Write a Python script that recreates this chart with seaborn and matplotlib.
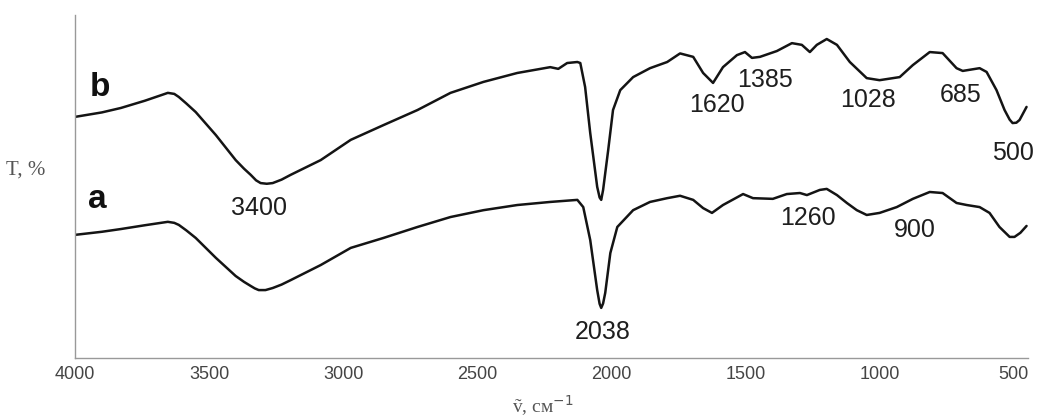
import numpy as np
import pandas as pd
import matplotlib
matplotlib.use("Agg")
import matplotlib.pyplot as plt
import seaborn as sns

# IR transmission spectra, wavenumber in cm^-1 and transmittance in relative units
wn_b = [4000, 3900, 3829, 3740, 3680, 3654, 3630, 3613, 3585, 3550, 3475, 3401, 3370,
        3345, 3325, 3308, 3285, 3263, 3230, 3196, 3084, 2972,
        2850, 2723, 2600, 2477, 2351, 2228, 2198, 2165, 2127, 2116, 2098, 2079, 2053,
        2044, 2038, 2031, 2012, 1994, 1967, 1919, 1856, 1792, 1744, 1695, 1658, 1621, 1584,
        1532, 1502, 1476, 1446, 1383, 1327, 1290, 1260, 1234, 1197, 1159, 1111, 1048,
        1000, 925, 876, 813, 765, 713, 690, 627, 601, 564, 534, 515, 504, 490, 478, 452]
t_b = [70.3, 71.6, 72.9, 75.0, 76.6, 77.3, 77.0, 76.1, 74.2, 71.7, 65.0, 57.7, 55.2,
       53.4, 51.8, 51.0, 50.8, 51.0, 52.0, 53.4, 57.7, 63.6,
       67.9, 72.3, 77.3, 80.5, 83.1, 84.8, 84.3, 86.0, 86.3, 86.0, 79.0, 65.6, 49.9,
       46.8, 46.1, 49.0, 60.6, 72.3, 78.1, 81.9, 84.5, 86.3, 88.8, 87.8, 83.1, 80.2, 84.8,
       88.3, 89.2, 87.5, 87.8, 89.5, 91.8, 91.3, 89.2, 91.3, 93.0, 91.3, 86.3, 81.6,
       81.0, 81.9, 85.4, 89.2, 88.9, 84.5, 83.7, 84.5, 83.4, 78.1, 72.3, 69.5, 68.5, 68.6, 69.4, 73.2]

wn_a = [4000, 3900, 3829, 3740, 3680, 3654, 3630, 3613, 3585, 3550, 3475, 3401, 3370,
        3345, 3330, 3315, 3290, 3263, 3230, 3196, 3084, 2972,
        2850, 2723, 2600, 2477, 2351, 2228, 2127, 2105, 2079, 2053, 2044, 2038, 2031, 2023, 2004,
        1978, 1919, 1856, 1792, 1744, 1695, 1658, 1625, 1584, 1509, 1472, 1398, 1346,
        1297, 1271, 1223, 1197, 1159, 1122, 1085, 1048, 1000, 936, 876, 813, 765, 713,
        675, 627, 590, 553, 515, 497, 475, 452]
t_a = [35.9, 36.8, 37.6, 38.7, 39.4, 39.7, 39.4, 38.8, 37.2, 35.0, 29.2, 23.9, 22.2,
       21.0, 20.3, 19.8, 19.8, 20.4, 21.4, 22.7, 27.1, 32.1,
       35.0, 38.2, 41.1, 43.1, 44.6, 45.5, 46.1, 44.0, 34.4, 19.8, 15.8, 14.6, 15.9, 19.0, 30.6,
       38.2, 43.1, 45.5, 46.6, 47.3, 46.1, 43.7, 42.3, 44.6, 47.8, 46.6, 46.4, 47.8,
       48.1, 47.5, 49.0, 49.3, 47.5, 45.2, 43.1, 41.7, 42.3, 44.0, 46.4, 48.4, 48.1,
       45.2, 44.6, 44.0, 42.3, 38.2, 35.3, 35.3, 36.5, 38.5]

# band labels: text, wavenumber, transmittance position
band_text = ["3400", "2038", "1620", "1385", "1028", "685", "500", "1260", "900"]
band_wn = [3315, 2031, 1606, 1427, 1044, 698, 504, 1267, 869]
band_t = [43.7, 7.6, 73.8, 81.0, 75.2, 76.7, 59.8, 40.8, 37.3]

curve_names = ["b", "a"]
curve_name_wn = [3907, 3918]
curve_name_t = [79.0, 46.1]

x_ticks = [4000, 3500, 3000, 2500, 2000, 1500, 1000, 500]

df = pd.concat([
    pd.DataFrame({"wn": wn_b, "T": t_b, "sample": "b"}),
    pd.DataFrame({"wn": wn_a, "T": t_a, "sample": "a"}),
])

sns.set_theme(style="white")
plt.rcParams["font.family"] = ["Liberation Sans", "DejaVu Sans"]

fig = plt.figure(figsize=(10.38, 4.17), dpi=100)
ax = fig.add_axes([0.0723, 0.1415, 0.9177, 0.8225])

for name in curve_names:
    sub = df[df["sample"] == name]
    sns.lineplot(data=sub, x="wn", y="T", ax=ax, color="#141414",
                 linewidth=1.8, sort=False, estimator=None,
                 solid_joinstyle="round", solid_capstyle="round")

ax.set_xlim(4000, 448)
ax.set_ylim(0, 100)
ax.set_xticks(x_ticks)
ax.set_xticklabels([str(v) for v in x_ticks], fontsize=13, color="#444444")
ax.set_yticks([20])
ax.set_yticklabels([""])
ax.tick_params(axis="x", direction="in", length=3, color="#aaaaaa", pad=6)
ax.tick_params(axis="y", direction="out", length=4, color="#999999")

for side in ["top", "right"]:
    ax.spines[side].set_visible(False)
for side in ["left", "bottom"]:
    ax.spines[side].set_color("#999999")
    ax.spines[side].set_linewidth(1.0)

ax.set_xlabel("")
ax.set_ylabel("")
fig.text(0.006, 0.592, "T, %", fontsize=15, color="#555555",
         family=["Liberation Serif", "DejaVu Serif"], ha="left", va="center")
fig.text(0.523, 0.027, "ṽ, см$^{-1}$", fontsize=14, color="#555555",
         family=["Liberation Serif", "DejaVu Serif"], ha="center", va="center")

for txt, x, y in zip(band_text, band_wn, band_t):
    ax.text(x, y, txt, fontsize=18, color="#1e1e1e", ha="center", va="center")

for txt, x, y in zip(curve_names, curve_name_wn, curve_name_t):
    ax.text(x, y, txt, fontsize=24, fontweight="bold", color="#111111",
            ha="center", va="center")

fig.savefig("out.png", dpi=100)
